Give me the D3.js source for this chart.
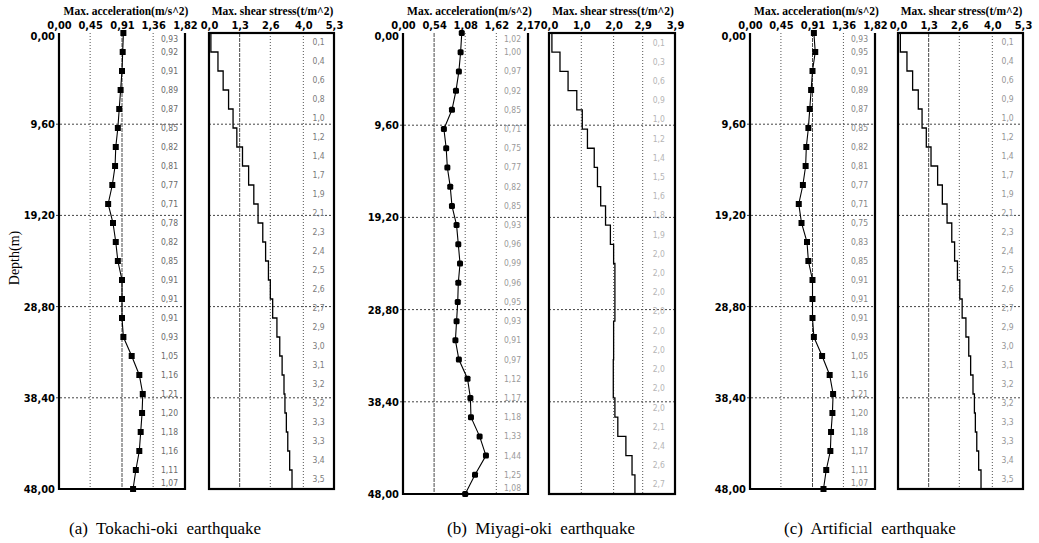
<!DOCTYPE html>
<html><head><meta charset="utf-8">
<script src="https://cdn.jsdelivr.net/npm/d3@7"></script>
<style>
html,body{margin:0;padding:0;background:#fff;}
svg{display:block;}
</style></head>
<body>
<svg id="chart" width="1039" height="543"></svg>
<script>
// ---------- DATA ----------
const depths = [0,2,4,6,8,10,12,14,16,18,20,22,24,26,28,30,32,34,36,38,40,42,44,46,48];
const layerDepths = [0,2,4,6,8,10,12,14,16,18,20,22,24,26,28,30,32,34,36,38,40,42,44,46];
const depthTicks = [0,9.6,19.2,28.8,38.4,48];

const accA = [0.93,0.92,0.91,0.89,0.87,0.85,0.82,0.81,0.77,0.71,0.78,0.82,0.85,0.91,0.91,0.91,0.93,1.05,1.16,1.21,1.20,1.18,1.16,1.11,1.07];
const accB = [1.02,1.00,0.97,0.92,0.85,0.71,0.75,0.77,0.82,0.85,0.93,0.96,0.99,0.96,0.95,0.93,0.91,0.97,1.12,1.17,1.18,1.33,1.44,1.25,1.08];
const accC = [0.93,0.95,0.91,0.89,0.87,0.85,0.82,0.81,0.77,0.71,0.75,0.83,0.85,0.91,0.91,0.91,0.93,1.05,1.16,1.21,1.20,1.18,1.17,1.11,1.07];

const shearA = [0.08,0.38,0.60,0.83,1.02,1.18,1.42,1.68,1.90,2.08,2.28,2.40,2.52,2.60,2.70,2.88,3.00,3.10,3.18,3.22,3.28,3.34,3.42,3.52];
const shearB = [0.09,0.34,0.59,0.86,1.03,1.19,1.40,1.50,1.60,1.75,1.90,2.00,2.04,2.04,2.04,2.00,2.00,1.99,1.99,2.04,2.13,2.38,2.57,2.66];
const shearC = [0.10,0.38,0.62,0.86,1.02,1.20,1.40,1.68,1.88,2.08,2.28,2.40,2.52,2.62,2.72,2.88,3.00,3.08,3.18,3.24,3.28,3.34,3.42,3.52];

const accTicksA = [0,0.45,0.91,1.36,1.82];
const accTicksB = [0,0.54,1.08,1.62,2.17];
const accTicksC = [0,0.45,0.91,1.36,1.82];
const shearTicksA = [0,1.3,2.6,4.0,5.3];
const shearTicksB = [0,1.0,2.0,2.9,3.9];
const shearTicksC = [0,1.3,2.6,4.0,5.3];

const captions = ["(a)  Tokachi-oki  earthquake","(b)  Miyagi-oki  earthquake","(c)  Artificial  earthquake"];
const accTitle = "Max. acceleration(m/s^2)";
const shearTitle = "Max. shear stress(t/m^2)";
const depthTitle = "Depth(m)";

// ---------- LAYOUT ----------
const panels = [
  {acc:accA, shear:shearA, accTicks:accTicksA, shearTicks:shearTicksA, ax:[59,185], sx:[209,334], top:33, bottom:489, capX:165, labCol:"#6a6a6a", shLabCol:"#7a7a7a", accSolid:2, shSolid:1},
  {acc:accB, shear:shearB, accTicks:accTicksB, shearTicks:shearTicksB, ax:[403,528], sx:[549,675], top:33, bottom:494, capX:541, labCol:"#9a9a9a", shLabCol:"#b5b5b5", accSolid:1, shSolid:-1},
  {acc:accC, shear:shearC, accTicks:accTicksC, shearTicks:shearTicksC, ax:[750,875], sx:[898,1023], top:33, bottom:489, capX:870, labCol:"#858585", shLabCol:"#959595", accSolid:2, shSolid:1}
];

const svg = d3.select("#chart");
const tickFont = "'Liberation Sans Narrow','DejaVu Sans Condensed','Liberation Sans',sans-serif";
const serif = "'Liberation Serif','DejaVu Serif',serif";
const comma = (v,n) => v.toFixed(n).replace(".", ",");

panels.forEach((p, pi) => {
  const g = svg.append("g");
  const y = d3.scaleLinear().domain([0,48]).range([p.top, p.bottom]);
  const xa = d3.scaleLinear().domain([0, p.accTicks[p.accTicks.length-1]]).range(p.ax);
  const xs = d3.scaleLinear().domain([0, p.shearTicks[p.shearTicks.length-1]]).range(p.sx);

  // ---- grid lines ----
  function vgrid(scale, ticks, solidIdx){
    g.append("g").selectAll("line").data(ticks.slice(1, ticks.length-1)).join("line")
      .attr("x1", d=>scale(d)).attr("x2", d=>scale(d))
      .attr("y1", p.top).attr("y2", p.bottom)
      .attr("stroke", (d,i)=> i+1===solidIdx ? "#333" : "#555")
      .attr("stroke-width", (d,i)=> i+1===solidIdx ? 0.9 : 1)
      .attr("stroke-dasharray", (d,i)=> i+1===solidIdx ? "4,1" : "1,2");
  }
  function hgrid(scale, x0){
    const r = scale.range();
    g.append("g").selectAll("line").data(depthTicks.slice(1, depthTicks.length-1)).join("line")
      .attr("x1", x0).attr("x2", r[1])
      .attr("y1", d=>y(d)).attr("y2", d=>y(d))
      .attr("stroke", "#444").attr("stroke-width", 1).attr("stroke-dasharray", "2,2");
  }
  vgrid(xa, p.accTicks, p.accSolid);
  vgrid(xs, p.shearTicks, p.shSolid);
  hgrid(xa, p.ax[0]-3); hgrid(xs, p.sx[0]);

  // ---- top axes (tick labels) ----
  const axA = d3.axisTop(xa).tickValues(p.accTicks).tickSize(0).tickPadding(4)
    .tickFormat(d=>comma(d,2));
  const axS = d3.axisTop(xs).tickValues(p.shearTicks).tickSize(0).tickPadding(4)
    .tickFormat(d=>comma(d,1));
  [axA, axS].forEach(ax => {
    const a = g.append("g").attr("transform", `translate(0,${p.top})`).call(ax);
    a.select(".domain").remove();
    a.selectAll("text").attr("font-family", tickFont).attr("font-size", 11)
      .attr("font-weight", "bold").attr("fill", "#000");
  });

  // ---- depth axis ----
  const axY = d3.axisLeft(y).tickValues(depthTicks).tickSize(0).tickPadding(4)
    .tickFormat(d=>comma(d,2));
  const ay = g.append("g").attr("transform", `translate(${p.ax[0]},0)`).call(axY);
  ay.select(".domain").remove();
  ay.selectAll("text").attr("font-family", tickFont).attr("font-size", 11)
    .attr("font-weight", "bold").attr("fill", "#000")
    .attr("dy", (d,i)=> i===0 ? "0.55em" : "0.32em");

  // ---- frames ----
  g.append("path")
    .attr("d", `M${p.ax[0]},${p.top}V${p.bottom}H${p.ax[1]}V${p.top}`)
    .attr("fill","none").attr("stroke","#000").attr("stroke-width",2.2);
  g.append("rect")
    .attr("x", p.sx[0]).attr("y", p.top)
    .attr("width", p.sx[1]-p.sx[0]).attr("height", p.bottom-p.top)
    .attr("fill","none").attr("stroke","#000").attr("stroke-width",2.2);

  // ---- titles ----
  g.append("text").attr("x", (p.ax[0]+p.ax[1])/2+4).attr("y", 15)
    .attr("text-anchor","middle").attr("font-family", serif).attr("font-size", 11.5)
    .attr("font-weight","bold").text(accTitle);
  g.append("text").attr("x", (p.sx[0]+p.sx[1])/2+1).attr("y", 15)
    .attr("text-anchor","middle").attr("font-family", serif).attr("font-size", 11.5)
    .attr("font-weight","bold").text(shearTitle);

  // ---- acceleration value labels ----
  g.append("g").selectAll("text").data(p.acc).join("text")
    .attr("x", p.ax[1]-7)
    .attr("y", (d,i)=> Math.max(p.top+6, Math.min(p.bottom-6, y(depths[i]))))
    .attr("dy","0.35em").attr("text-anchor","end")
    .attr("font-family", tickFont).attr("font-size", 8.5).attr("fill", p.labCol)
    .text(d=>comma(d,2));

  // ---- shear value labels ----
  const sepX = xs(p.shearTicks[p.shearTicks.length-2]);
  g.append("g").selectAll("text").data(p.shear).join("text")
    .attr("x", (sepX + p.sx[1])/2)
    .attr("y", (d,i)=> y(layerDepths[i]+1))
    .attr("dy","0.35em").attr("text-anchor","middle")
    .attr("font-family", tickFont).attr("font-size", 8.5).attr("fill", p.shLabCol)
    .text(d=>comma(d,1));

  // ---- acceleration profile ----
  const line = d3.line().x(d=>xa(d[0])).y(d=>y(d[1]));
  const accPts = p.acc.map((v,i)=>[v, depths[i]]);
  g.append("path").attr("d", line(accPts)).attr("fill","none")
    .attr("stroke","#000").attr("stroke-width",1.1);
  g.append("g").selectAll("rect").data(accPts).join("rect")
    .attr("x", d=>xa(d[0])-3).attr("y", d=>y(d[1])-3)
    .attr("width",6).attr("height",6)
    .attr("rx", pi===1 ? 1.5 : 0)
    .attr("fill","#000");

  // ---- shear stress step profile ----
  const stepPts = [];
  p.shear.forEach((v,i)=>{ stepPts.push([v, layerDepths[i]]); stepPts.push([v, layerDepths[i]+2]); });
  const sline = d3.line().x(d=>xs(d[0])).y(d=>y(d[1]));
  g.append("path").attr("d", sline(stepPts)).attr("fill","none")
    .attr("stroke","#000").attr("stroke-width",1.3);

  // ---- caption ----
  g.append("text").attr("x", p.capX).attr("y", 534)
    .attr("text-anchor","middle").attr("font-family", serif).attr("font-size", 17)
    .attr("xml:space","preserve").style("white-space","pre")
    .text(captions[pi]);

  if (pi === 0) {
    g.append("text").attr("transform", `translate(19,258) rotate(-90)`)
      .attr("text-anchor","middle").attr("font-family", serif).attr("font-size", 14)
      .text(depthTitle);
  }
});
</script>
</body></html>
